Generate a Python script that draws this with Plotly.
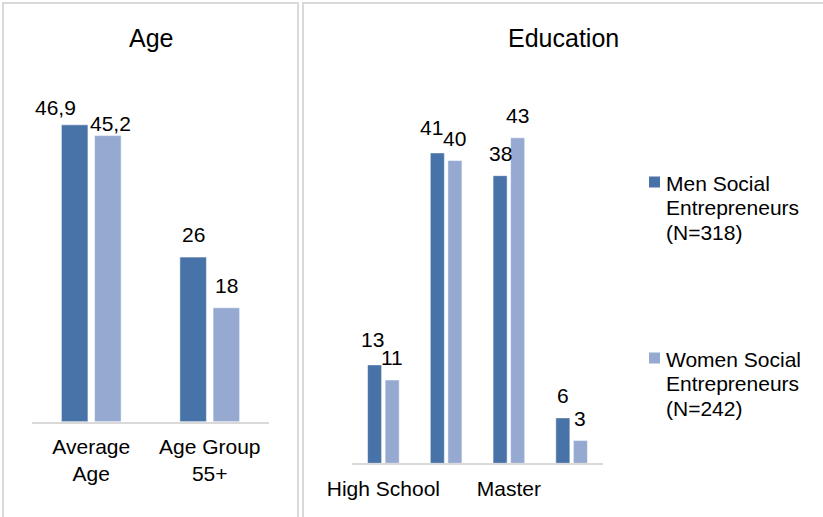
import plotly.graph_objects as go

# ---- data -------------------------------------------------------------
age_categories = ["Average<br>Age", "Age Group<br>55+"]
age_men = [46.9, 26]
age_women = [45.2, 18]

edu_categories = ["High School", "Bachelor", "Master", "PhD"]
edu_men = [13, 41, 38, 6]
edu_women = [11, 40, 43, 3]
edu_tick_labels = ["High School", "", "Master", ""]

series_names = ["Men Social Entrepreneurs (N=318)",
                "Women Social Entrepreneurs (N=242)"]
legend_lines = [["Men Social", "Entrepreneurs", "(N=318)"],
                ["Women Social", "Entrepreneurs", "(N=242)"]]

# ---- styling ----------------------------------------------------------
MEN_COLOR = "#4873a8"
WOMEN_COLOR = "#95a9d1"
COLORS = [MEN_COLOR, WOMEN_COLOR]
GRID_GREY = "#d9d9d9"
FONT = "Arial, 'Liberation Sans', sans-serif"
TXT = "#000000"
W, H = 823, 517

BARGAP = 0.44
BARGROUPGAP = 0.2
SLOT = (1 - BARGAP) / 2  # width of one series slot, in category units
EDGE = dict(color="rgba(255,255,255,0.5)", width=1)


def fmt(v):
    return f"{v:g}".replace(".", ",")


def px_x(x):
    return x / W


def px_y(y):
    return 1 - y / H


fig = go.Figure()

for s, vals in enumerate([age_men, age_women]):
    fig.add_trace(go.Bar(x=list(range(len(age_categories))), y=vals, name=series_names[s],
                         marker=dict(color=COLORS[s], line=EDGE),
                         xaxis="x", yaxis="y", showlegend=False))
for s, vals in enumerate([edu_men, edu_women]):
    fig.add_trace(go.Bar(x=list(range(len(edu_categories))), y=vals, name=series_names[s],
                         marker=dict(color=COLORS[s], line=EDGE),
                         xaxis="x2", yaxis="y2", showlegend=False))

# ---- value labels above bars -----------------------------------------
# per-label pixel nudges (dx, dy) where labels crowd each other
age_nudge = {(0, 0): (-19, -5), (0, 1): (3, -10)}
edu_nudge = {(0, 0): (-2, 3), (1, 0): (-6, 3)}

annotations = []


def add_labels(values_by_series, xref, yref, nudges):
    for s, values in enumerate(values_by_series):
        offset = (-0.5 if s == 0 else 0.5) * SLOT
        for i, v in enumerate(values):
            dx, dy = nudges.get((i, s), (0, 0))
            annotations.append(dict(
                x=i + offset, y=v, xref=xref, yref=yref, text=fmt(v),
                showarrow=False, xanchor="center", yanchor="middle",
                xshift=dx, yshift=22.5 + dy,
                font=dict(family=FONT, size=21, color=TXT)))


add_labels([age_men, age_women], "x", "y", age_nudge)
add_labels([edu_men, edu_women], "x2", "y2", edu_nudge)

# panel titles
for text, cx in [("Age", 150.5), ("Education", 563)]:
    annotations.append(dict(text=text, x=px_x(cx), y=px_y(38), xref="paper", yref="paper",
                            showarrow=False, xanchor="center", yanchor="middle",
                            font=dict(family=FONT, size=25, color=TXT)))

# panel frames
shapes = [
    dict(type="rect", xref="paper", yref="paper", x0=px_x(3), x1=px_x(298), y0=-0.1, y1=px_y(3),
         line=dict(color=GRID_GREY, width=2), layer="below"),
    dict(type="rect", xref="paper", yref="paper", x0=px_x(303), x1=1.1, y0=-0.1, y1=px_y(3),
         line=dict(color=GRID_GREY, width=2), layer="below"),
]

# legend: colour swatch plus three text lines per series
legend_top = [182, 358]
for s in range(2):
    yc = legend_top[s]
    shapes.append(dict(type="rect", xref="paper", yref="paper",
                       x0=px_x(649), x1=px_x(660), y0=px_y(yc + 5.5), y1=px_y(yc - 5.5),
                       fillcolor=COLORS[s], line=dict(width=0)))
    for k, line in enumerate(legend_lines[s]):
        annotations.append(dict(text=line, x=px_x(664), y=px_y(yc + 1 + 24.5 * k),
                                xref="paper", yref="paper", showarrow=False,
                                xanchor="left", yanchor="middle",
                                font=dict(family=FONT, size=21, color=TXT)))

axis_common = dict(showgrid=False, zeroline=False, showline=True, linecolor=GRID_GREY,
                   linewidth=2, ticks="", ticklabelstandoff=5,
                   tickfont=dict(family=FONT, size=21, color=TXT))

fig.update_layout(
    width=W, height=H,
    margin=dict(l=0, r=0, t=0, b=0, autoexpand=False),
    paper_bgcolor="white", plot_bgcolor="rgba(0,0,0,0)",
    barmode="group", bargap=BARGAP, bargroupgap=BARGROUPGAP,
    font=dict(family=FONT, size=21, color=TXT),
    showlegend=False,
    xaxis=dict(domain=[px_x(32), px_x(269)], range=[-0.5, 1.5],
               tickmode="array", tickvals=list(range(len(age_categories))), ticktext=age_categories,
               anchor="y", **axis_common),
    yaxis=dict(domain=[px_y(421.7), px_y(105.2)], range=[0, 50], visible=False, anchor="x"),
    xaxis2=dict(domain=[px_x(352), px_x(603)], range=[-0.5, 3.5],
                tickmode="array", tickvals=list(range(len(edu_categories))), ticktext=edu_tick_labels,
                anchor="y2", **axis_common),
    yaxis2=dict(domain=[px_y(463.3), px_y(84.8)], range=[0, 50], visible=False, anchor="x2"),
    annotations=annotations,
    shapes=shapes,
)

fig.write_html("out.html")
